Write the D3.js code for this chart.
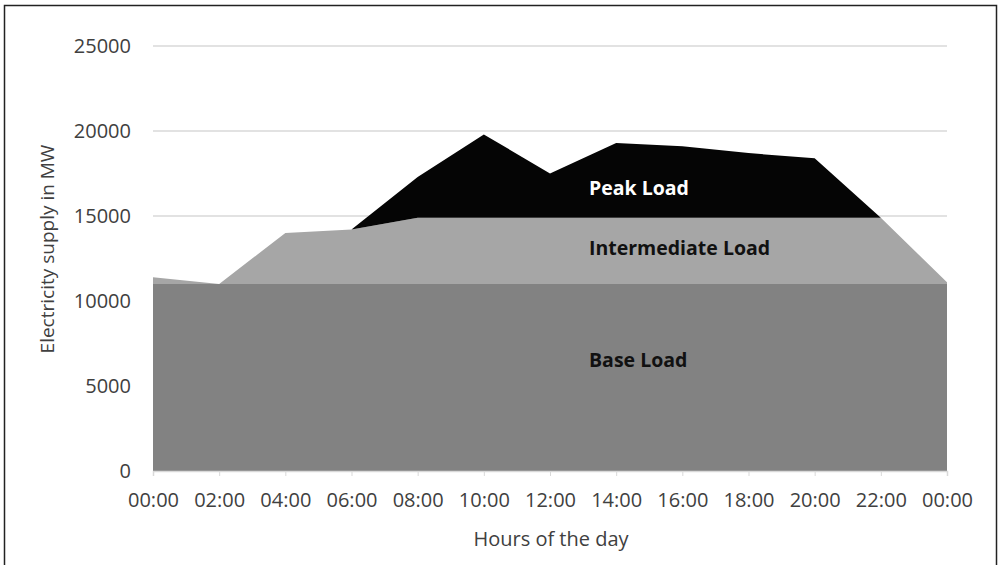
<!DOCTYPE html>
<html>
<head>
<meta charset="utf-8">
<script src="https://cdn.jsdelivr.net/npm/d3@7"></script>
<style>
  html, body { margin: 0; padding: 0; background: #fff; }
  svg { display: block; }
</style>
</head>
<body>
<svg id="chart" width="1004" height="565"></svg>
<script>
// ---- data ----
const hours = ["00:00","02:00","04:00","06:00","08:00","10:00","12:00","14:00","16:00","18:00","20:00","22:00","00:00 "];
const baseLoad = [11000,11000,11000,11000,11000,11000,11000,11000,11000,11000,11000,11000,11000];
const intermediateLoad = [400,0,3000,3200,3900,3900,3900,3900,3900,3900,3900,3900,100];
const peakLoad = [0,0,0,0,2400,4900,2600,4400,4200,3800,3500,0,0];
const yTicks = [0,5000,10000,15000,20000,25000];
const seriesNames = ["Base Load","Intermediate Load","Peak Load"];

const W = 1004, H = 565;
const margin = { left: 153, right: 57, top: 46, bottom: 94 };
const svg = d3.select("#chart");

const x = d3.scalePoint().domain(hours).range([margin.left, W - margin.right]);
const y = d3.scaleLinear().domain([0, 25000]).range([H - margin.bottom, margin.top]);

// frame
svg.append("rect").attr("x", 4.5).attr("y", 5.5).attr("width", 992).attr("height", 570)
  .attr("fill", "none").attr("stroke", "#222").attr("stroke-width", 1.5);

// gridlines
svg.append("g").selectAll("line").data(yTicks.filter(d => d > 0)).join("line")
  .attr("x1", margin.left).attr("x2", W - margin.right)
  .attr("y1", d => y(d)).attr("y2", d => y(d))
  .attr("stroke", "#d9d9d9").attr("stroke-width", 1.5);

// stacked data
const rows = hours.map((h, i) => ({ hour: h, "Base Load": baseLoad[i], "Intermediate Load": intermediateLoad[i], "Peak Load": peakLoad[i] }));
const stack = d3.stack().keys(seriesNames)(rows);
const colors = { "Base Load": "#828282", "Intermediate Load": "#a6a6a6", "Peak Load": "#050505" };

const area = d3.area()
  .x(d => x(d.data.hour))
  .y0(d => y(d[0]))
  .y1(d => y(d[1]));

svg.append("g").selectAll("path").data(stack).join("path")
  .attr("d", area)
  .attr("fill", d => colors[d.key]);

// x axis
const xAxis = d3.axisBottom(x).tickSize(5).tickPadding(17).tickFormat(d => d.trim());
const gx = svg.append("g").attr("transform", `translate(0,${y(0)})`).call(xAxis);
gx.select(".domain").attr("stroke", "#d9d9d9").attr("stroke-width", 1.5);
gx.selectAll(".tick line").attr("stroke", "#d9d9d9");
gx.selectAll("text").attr("font-family", "Open Sans").attr("font-size", 20).attr("fill", "#404040");

// y axis
const yAxis = d3.axisLeft(y).tickValues(yTicks).tickSize(0).tickPadding(22).tickFormat(d3.format("d"));
const gy = svg.append("g").attr("transform", `translate(${margin.left},0)`).call(yAxis);
gy.select(".domain").remove();
gy.selectAll("text").attr("font-family", "Open Sans").attr("font-size", 20).attr("fill", "#404040");

// axis titles
svg.append("text").attr("x", 551).attr("y", 546).attr("text-anchor", "middle")
  .attr("font-family", "Open Sans").attr("font-size", 20).attr("fill", "#404040")
  .text("Hours of the day");
svg.append("text").attr("transform", "translate(54,249) rotate(-90)").attr("text-anchor", "middle")
  .attr("font-family", "Open Sans").attr("font-size", 19).attr("fill", "#404040")
  .text("Electricity supply in MW");

// series labels
const labelPos = [
  { name: "Peak Load", hour: "12:00", v: 16250, fill: "#ffffff" },
  { name: "Intermediate Load", hour: "12:00", v: 12700, fill: "#111111" },
  { name: "Base Load", hour: "12:00", v: 6120, fill: "#111111" }
];
svg.append("g").selectAll("text").data(labelPos).join("text")
  .attr("x", d => x(d.hour) + 39)
  .attr("y", d => y(d.v))
  .attr("font-family", "Open Sans").attr("font-weight", "bold").attr("font-size", 19.5)
  .attr("fill", d => d.fill)
  .text(d => d.name);
</script>
</body>
</html>
